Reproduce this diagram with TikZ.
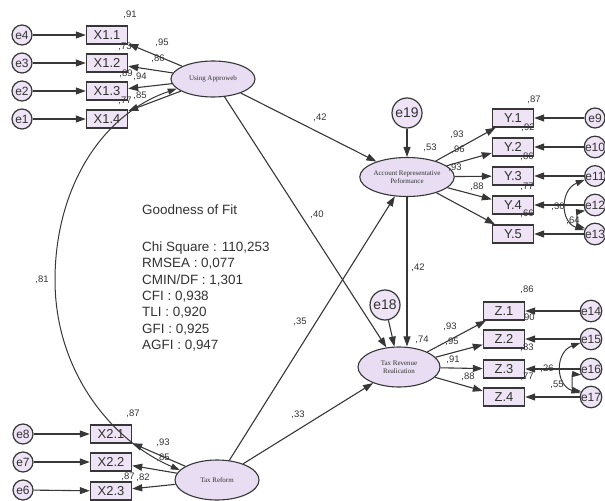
\documentclass[tikz,border=0pt]{standalone}
\usepackage{fontspec}
\setmainfont{Liberation Sans}
\newfontfamily\serifx{Liberation Serif}
\usetikzlibrary{arrows.meta,shapes.geometric}
\definecolor{boxfill}{RGB}{238,228,245}
\definecolor{ellfill}{RGB}{232,221,242}
\definecolor{edgec}{RGB}{55,55,55}
\definecolor{txt}{RGB}{50,50,50}
\begin{document}
\begin{tikzpicture}[x=1bp,y=-1bp,
  obs/.style={draw=edgec,line width=1.4bp,fill=boxfill,minimum width=41bp,minimum height=18bp,inner sep=0pt,font=\fontsize{13}{13}\selectfont,text=txt},
  lat/.style={ellipse,draw=edgec,line width=1.1bp,fill=ellfill,inner sep=0pt,font=\serifx\fontsize{7}{8.5}\selectfont,align=center,text=txt},
  err/.style={circle,draw=edgec,line width=1.2bp,fill=boxfill,minimum size=20bp,inner sep=0pt,font=\fontsize{12}{12}\selectfont,text=txt},
  errbig/.style={err,minimum size=30bp,font=\fontsize{14}{14}\selectfont},
  pth/.style={draw=edgec,line width=1.1bp,-{Triangle[length=10bp,width=7bp]}},
  cov/.style={draw=edgec,line width=1.0bp,{Triangle[length=9bp,width=6bp]}-{Triangle[length=9bp,width=6bp]}},
  lbl/.style={font=\fontsize{9.5}{10}\selectfont,text=txt,inner sep=0pt},
  fit/.style={font=\fontsize{13.5}{14}\selectfont,text=txt,anchor=base west,inner sep=0pt},
]
\useasboundingbox (0,0) rectangle (605,501);

% ---------- latent variables ----------
\node[lat,minimum width=84bp,minimum height=36bp] (UA) at (213,79) {Using Approweb};
\node[lat,minimum width=84bp,minimum height=40bp] (TR) at (217,480) {Tax Reform};
\node[lat,minimum width=82bp,minimum height=39bp] (ARP) at (407,177) {Account Representative\\Peformance};
\node[lat,minimum width=82bp,minimum height=40bp] (TRR) at (399,367) {Tax Revenue\\Realication};
\node[errbig] (e19) at (407,113) {e19};
\node[errbig] (e18) at (385,305) {e18};

% ---------- X1 block ----------
\node[obs] (X11) at (107,35) {X1.1};
\node[obs] (X12) at (107,63) {X1.2};
\node[obs] (X13) at (107,91) {X1.3};
\node[obs] (X14) at (107,119) {X1.4};
\node[err] (e4) at (22,35) {e4};
\node[err] (e3) at (22,63) {e3};
\node[err] (e2) at (22,91) {e2};
\node[err] (e1) at (22,119) {e1};

% ---------- X2 block ----------
\node[obs] (X21) at (111,434) {X2.1};
\node[obs] (X22) at (111,462) {X2.2};
\node[obs] (X23) at (111,491) {X2.3};
\node[err] (e8) at (23,434) {e8};
\node[err] (e7) at (23,462) {e7};
\node[err] (e6) at (23,490) {e6};

% ---------- Y block ----------
\node[obs] (Y1) at (513,118) {Y.1};
\node[obs] (Y2) at (513,147) {Y.2};
\node[obs] (Y3) at (513,176) {Y.3};
\node[obs] (Y4) at (513,205) {Y.4};
\node[obs] (Y5) at (513,234) {Y.5};
\node[err] (e9) at (595,118) {e9};
\node[err] (e10) at (595,147) {e10};
\node[err] (e11) at (595,176) {e11};
\node[err] (e12) at (595,205) {e12};
\node[err] (e13) at (595,234) {e13};

% ---------- Z block ----------
\node[obs] (Z1) at (504,311) {Z.1};
\node[obs] (Z2) at (504,339) {Z.2};
\node[obs] (Z3) at (504,369) {Z.3};
\node[obs] (Z4) at (504,397) {Z.4};
\node[err] (e14) at (591,311) {e14};
\node[err] (e15) at (591,339) {e15};
\node[err] (e16) at (591,369) {e16};
\node[err] (e17) at (591,397) {e17};

% ---------- error arrows ----------
\foreach \e/\b in {e4/X11,e3/X12,e2/X13,e1/X14,e8/X21,e7/X22,e6/X23,
  e9/Y1,e10/Y2,e11/Y3,e12/Y4,e13/Y5,e14/Z1,e15/Z2,e16/Z3,e17/Z4}
  \draw[pth] (\e) -- (\b);
\draw[pth] (e19) -- (ARP);
\draw[pth] (e18) -- (TRR);

% ---------- loadings ----------
\foreach \b in {X11,X12,X13,X14} \draw[pth] (UA) -- (\b);
\foreach \b in {X21,X22,X23} \draw[pth] (TR) -- (\b);
\foreach \b in {Y1,Y2,Y3,Y4,Y5} \draw[pth] (ARP) -- (\b);
\foreach \b in {Z1,Z2,Z3,Z4} \draw[pth] (TRR) -- (\b);

% ---------- structural paths ----------
\draw[pth] (UA) -- (ARP);
\draw[pth] (UA) -- (TRR);
\draw[pth] (TR) -- (ARP);
\draw[pth] (TR) -- (TRR);
\draw[pth] (ARP.south) -- (TRR.north -| ARP.south);

% ---------- covariances ----------
\draw[cov] (UA.195) .. controls (100,115) and (55,190) .. (55,280) .. controls (55,370) and (110,440) .. (TR.165);
\draw[cov] (e11.200) .. controls (560,190) and (560,222) .. (e13.160);
\draw[cov] (e12.210) .. controls (577,212) and (577,226) .. (e13.150);
\draw[cov] (e15.200) .. controls (555,352) and (555,385) .. (e17.160);
\draw[cov] (e16.210) .. controls (572,374) and (572,390) .. (e17.150);

% ---------- labels ----------
\node[lbl] (l1) at (130,15) {,91};
\node[lbl] (l2) at (162,43) {,95};
\node[lbl] (l3) at (125,47) {,73};
\node[lbl] (l4) at (158,59) {,86};
\node[lbl] (l5) at (126,74) {,89};
\node[lbl] (l6) at (140,77) {,94};
\node[lbl] (l7) at (125,101) {,77};
\node[lbl] (l8) at (140,96) {,85};
\node[lbl] (l9) at (42,280) {,81};
\node[lbl] (l10) at (133,414) {,87};
\node[lbl] (l11) at (163,443) {,93};
\node[lbl] (l12) at (163,458) {,85};
\node[lbl] (l13) at (128,477) {,87};
\node[lbl] (l14) at (143,478) {,82};
\node[lbl] (l15) at (320,118) {,42};
\node[lbl] (l16) at (317,215) {,40};
\node[lbl] (l17) at (300,322) {,35};
\node[lbl] (l18) at (298,415) {,33};
\node[lbl] (l19) at (418,268) {,42};
\node[lbl] (l20) at (430,148) {,53};
\node[lbl] (l21) at (422,340) {,74};
\node[lbl] (l22) at (534,100) {,87};
\node[lbl] (l23) at (528,128) {,92};
\node[lbl] (l24) at (527,157) {,86};
\node[lbl] (l25) at (527,187) {,77};
\node[lbl] (l26) at (527,214) {,66};
\node[lbl] (l27) at (457,135) {,93};
\node[lbl] (l28) at (458,150) {,96};
\node[lbl] (l29) at (455,168) {,93};
\node[lbl] (l30) at (477,187) {,88};
\node[lbl] (l31) at (558,207) {,30};
\node[lbl] (l32) at (573,221) {,64};
\node[lbl] (l33) at (527,290) {,86};
\node[lbl] (l34) at (528,318) {,90};
\node[lbl] (l35) at (527,348) {,83};
\node[lbl] (l36) at (527,377) {,77};
\node[lbl] (l37) at (450,327) {,93};
\node[lbl] (l38) at (452,342) {,95};
\node[lbl] (l39) at (453,360) {,91};
\node[lbl] (l40) at (468,377) {,88};
\node[lbl] (l41) at (547,369) {,26};
\node[lbl] (l42) at (557,385) {,55};

% ---------- goodness of fit ----------
\node[fit] (g0) at (142,215) {Goodness of Fit};
\node[fit] (g1) at (142,251) {Chi Square : 110,253};
\node[fit] (g2) at (142,267.5) {RMSEA : 0,077};
\node[fit] (g3) at (142,284) {CMIN/DF : 1,301};
\node[fit] (g4) at (142,300) {CFI : 0,938};
\node[fit] (g5) at (142,316.5) {TLI : 0,920};
\node[fit] (g6) at (142,333) {GFI : 0,925};
\node[fit] (g7) at (142,349) {AGFI : 0,947};
\end{tikzpicture}
\end{document}
